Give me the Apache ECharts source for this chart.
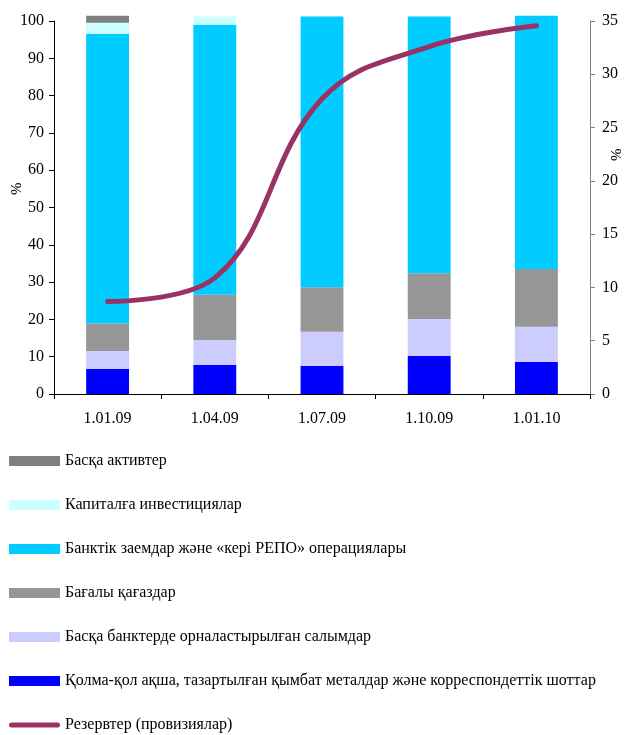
<!DOCTYPE html>
<html>
<head>
<meta charset="utf-8">
<script src="https://cdn.jsdelivr.net/npm/echarts@6/dist/echarts.min.js"></script>
<style>
html,body{margin:0;padding:0;background:#fff;}
#chart{width:625px;height:735px;}
</style>
</head>
<body>
<div id="chart"></div>
<script>
const categories = ['1.01.09', '1.04.09', '1.07.09', '1.10.09', '1.01.10'];
const cashMetals = [6.7, 7.8, 7.5, 10.2, 8.6];
const depositsOtherBanks = [4.8, 6.7, 9.2, 9.9, 9.4];
const securities = [7.4, 12.1, 11.9, 12.3, 15.5];
const loansRepo = [77.7, 72.4, 72.6, 68.8, 67.9];
const capitalInvest = [2.9, 2.2, 0, 0, 0];
const otherAssets = [1.9, 0, 0, 0, 0];
const reserves = [8.67, 10.9, 27.7, 32.6, 34.55];
const leftTicks = [0, 10, 20, 30, 40, 50, 60, 70, 80, 90, 100];
const rightTicks = [0, 5, 10, 15, 20, 25, 30, 35];

const names = {
  other: 'Басқа активтер',
  cap: 'Капиталға инвестициялар',
  loans: 'Банктік заемдар және «кері РЕПО» операциялары',
  sec: 'Бағалы қағаздар',
  dep: 'Басқа банктерде орналастырылған салымдар',
  cash: 'Қолма-қол ақша, тазартылған қымбат металдар және корреспондеттік шоттар',
  res: 'Резервтер (провизиялар)'
};

const font = '"Liberation Serif", "DejaVu Serif", serif';
const chart = echarts.init(document.getElementById('chart'), null, {renderer: 'canvas'});

function bar(name, data, color) {
  return {
    name: name, type: 'bar', stack: 'total', data: data, barWidth: '40%',
    clip: false, itemStyle: {color: color}, emphasis: {disabled: true}
  };
}

const lineIcon = 'path://M2.5,0 H48.5 A2.5,2.5 0 0 1 48.5,5 H2.5 A2.5,2.5 0 0 1 2.5,0 Z';

chart.setOption({
  animation: false,
  textStyle: {fontFamily: font},
  grid: {left: 54, right: 35, top: 21, bottom: 341, containLabel: false},
  legend: {
    type: 'plain', orient: 'vertical', left: 9, top: 453, bottom: 0, padding: 0,
    itemWidth: 51, itemHeight: 10, itemGap: 28, itemTextGap: 4,
    textStyle: {fontFamily: font, fontSize: 16, color: '#000'},
    data: [
      {name: names.other, icon: 'rect'},
      {name: names.cap, icon: 'rect'},
      {name: names.loans, icon: 'rect'},
      {name: names.sec, icon: 'rect'},
      {name: names.dep, icon: 'rect'},
      {name: names.cash, icon: 'rect'},
      {name: names.res, icon: lineIcon}
    ],
    selectedMode: false
  },
  xAxis: {
    type: 'category', data: categories,
    axisLine: {lineStyle: {color: '#000', width: 1}},
    axisTick: {show: true, length: 5, lineStyle: {color: '#000'}},
    axisLabel: {fontFamily: font, fontSize: 16, color: '#000', margin: 17}
  },
  yAxis: [
    {
      type: 'value', min: 0, max: 100, interval: 10, position: 'left',
      splitLine: {show: false},
      axisLine: {show: true, lineStyle: {color: '#000'}},
      axisTick: {show: true, length: 5, lineStyle: {color: '#000'}},
      axisLabel: {fontFamily: font, fontSize: 16, color: '#000', margin: 10,
        formatter: v => leftTicks.indexOf(v) >= 0 ? String(v) : ''}
    },
    {
      type: 'value', min: 0, max: 35, interval: 5, position: 'right',
      splitLine: {show: false},
      axisLine: {show: true, lineStyle: {color: '#808080'}},
      axisTick: {show: true, length: 5, lineStyle: {color: '#808080'}},
      axisLabel: {fontFamily: font, fontSize: 16, color: '#000', margin: 12,
        formatter: v => rightTicks.indexOf(v) >= 0 ? String(v) : ''}
    }
  ],
  graphic: [
    {type: 'text', rotation: Math.PI / 2,
      style: {text: '%', font: '15px ' + font, fill: '#000'},
      x: 10, y: 195},
    {type: 'text', rotation: Math.PI / 2,
      style: {text: '%', font: '15px ' + font, fill: '#000'},
      x: 610, y: 161}
  ],
  series: [
    bar(names.cash, cashMetals, '#0000FF'),
    bar(names.dep, depositsOtherBanks, '#CCCCFF'),
    bar(names.sec, securities, '#969696'),
    bar(names.loans, loansRepo, '#00CCFF'),
    bar(names.cap, capitalInvest, '#CCFFFF'),
    bar(names.other, otherAssets, '#808080'),
    {
      name: names.res, type: 'line', yAxisIndex: 1, data: reserves, smooth: 0.4,
      symbol: 'none', showSymbol: false, clip: false,
      lineStyle: {color: '#993366', width: 5, cap: 'round'},
      itemStyle: {color: '#993366'}, emphasis: {disabled: true}
    }
  ]
});
</script>
</body>
</html>
